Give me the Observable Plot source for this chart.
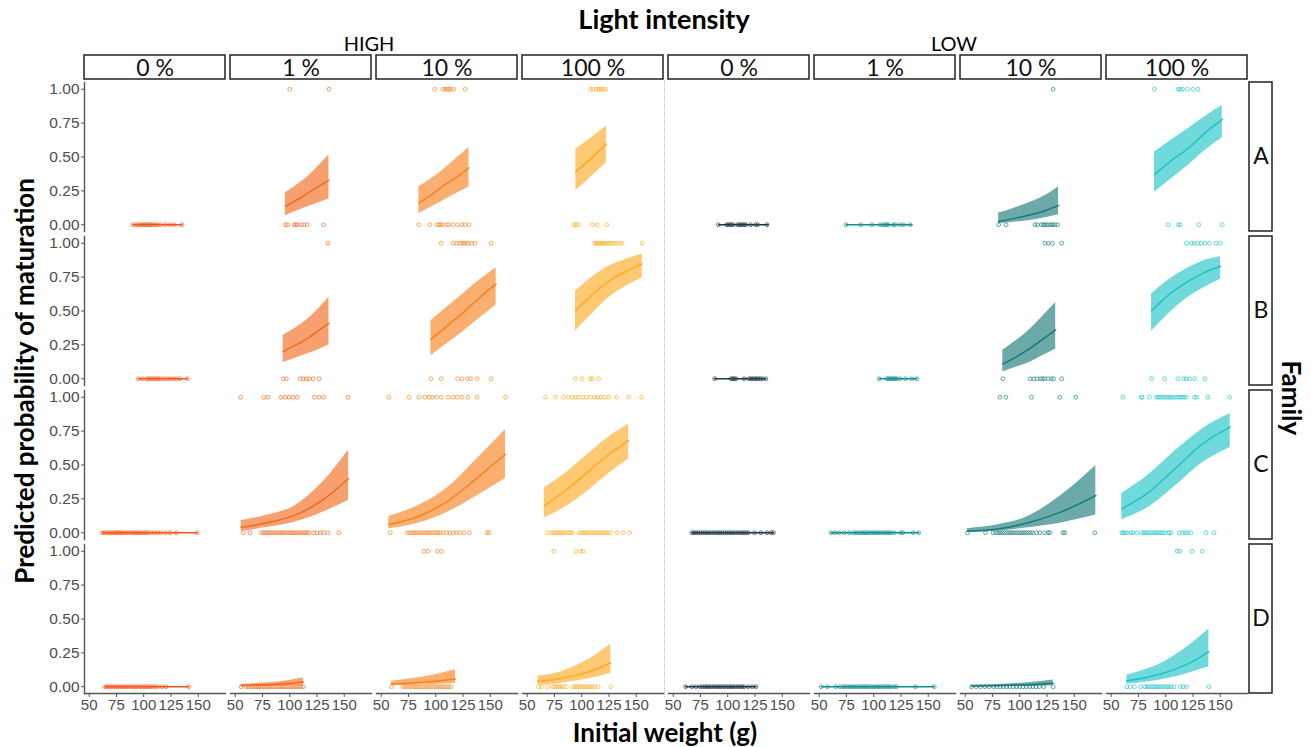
<!DOCTYPE html>
<html><head><meta charset="utf-8">
<script src="https://cdn.jsdelivr.net/npm/d3@7"></script>
<script src="https://cdn.jsdelivr.net/npm/@observablehq/plot@0.6"></script>
<style>
body{margin:0;background:#fff;}
#root{position:relative;width:1311px;height:747px;overflow:hidden;background:#fff;font-family:Lato,"Open Sans",sans-serif;}
.lbl{position:absolute;white-space:nowrap;text-align:center;color:#000;}
.abs{position:absolute;}
</style></head>
<body><div id="root"></div>
<script>
// ---------- data ----------
const families = ["A","B","C","D"];
const lightLevels = ["HIGH","LOW"];
const doses = ["0 %","1 %","10 %","100 %"];
const panelColors = ["#F4561A","#F26A1E","#F7821F","#FFA922","#1D3A44","#12908D","#177A79","#1FC3C8"];
const xTicks = [50,75,100,125,150];
const yTicks = [0,0.25,0.5,0.75,1];

// [light, dose, matured (0/1), initial weights (g)]
const pointsA = [
 ["HIGH","0 %",0,[90,93,95,97,98,100,101,103,104,106,107,109,111,113,116,120,124,128,135]],
 ["HIGH","1 %",0,[96,98,104,105.5,107,110.5,113,116,131]],
 ["HIGH","1 %",1,[100,136]],
 ["HIGH","10 %",0,[84.5,94.5,101,103,104.5,106.5,110,112,116,120,124,127,130.5]],
 ["HIGH","10 %",1,[99,106.5,108.5,110.5,112,114,116.5,127]],
 ["HIGH","100 %",0,[93,95,97,110,114,123]],
 ["HIGH","100 %",1,[108,110,113,115,116,118,120,122]],
 ["LOW","0 %",0,[91.5,99,100.5,102,103.5,105,109,110.5,112,113.5,115,116.5,121,125.5,127.5,136]],
 ["LOW","1 %",0,[74.7,88.2,98.3,105.9,108.4,110.5,112,113.5,118.1,119.7,124.2,127.3,133.5]],
 ["LOW","10 %",0,[80.7,87.5,114,116.3,119.8,121.7,122.8,124.7,126.7,128.6,130.5,132.5,134.8]],
 ["LOW","10 %",1,[130.7]],
 ["LOW","100 %",0,[102.3,111.5,113.4,130.3,151.9]],
 ["LOW","100 %",1,[89.7,111.5,113.4,115.4,120,125,129.6]]
];
const pointsB = [
 ["HIGH","0 %",0,[95,99,103,105,107,109,111,113,115,118,121,124,127,130,133,140]],
 ["HIGH","1 %",0,[94,97,109.5,112.5,115,118,121.5,127]],
 ["HIGH","1 %",1,[135]],
 ["HIGH","10 %",0,[95.7,105,120,124,129,132,138,151]],
 ["HIGH","10 %",1,[105,116,119,122,124,126,128,130,133,136,151]],
 ["HIGH","100 %",0,[94,100.4,108,109.6,115.7]],
 ["HIGH","100 %",1,[111.8,113,114.5,116,117.5,119,120.5,122,124,126,128,130,132,135,137,155.5]],
 ["LOW","0 %",0,[88,103,104.5,106,107.5,115,119.5,121.5,123,125,126.5,128,130,132,135]],
 ["LOW","1 %",0,[105,112,113.5,115,116.5,118,119.5,121,124,129,135,139.6]],
 ["LOW","10 %",0,[84.5,109.5,113,116,119,121,123,126,129,131,138.5]],
 ["LOW","10 %",1,[123,126.5,130,138.5]],
 ["LOW","100 %",0,[87,99,111,116.5,119,122,126.5,136]],
 ["LOW","100 %",1,[119,123.5,126,129,132.5,136,140,146,150]]
];
const pointsC = [
 ["HIGH","0 %",0,[62,64,66,68,70,72,74,75,77,78,80,82,84,86,88,90,92,94,96,98,100,102,104,107,110,113,116,120,124,130,149]],
 ["HIGH","1 %",0,[57.3,63.6,74,76,78,80,82,84,86,88,90,92,94,96,98,100,102,104,106,108,110,112,114,116,118,122,125,128,131,135,145]],
 ["HIGH","1 %",1,[55,76,80,92,96,99.5,103,107,122.5,127,131,153.5]],
 ["HIGH","10 %",0,[58.3,74,76,78,80,82,84,86,88,90,92,94,96,98,100,102,104,107,110,113,116,119,122,126,131,147,149]],
 ["HIGH","10 %",1,[57,75.6,84.8,90.3,94,96.7,100.4,105,111.4,116,119.6,124.2,129.7,138,164]],
 ["HIGH","100 %",0,[68.6,72.3,74,76,78,80,82,84,86,88,90,91.6,97.7,100,102,104,106,108,110,112,114,116,118,120,122,124,126.4,132.5,138.3,144]],
 ["HIGH","100 %",1,[66.8,76,83.3,87.9,91.6,94.3,97.1,100.7,104.4,108.1,111.8,114.5,117.3,120.9,124.6,131.9,143,154.9]],
 ["LOW","0 %",0,[67,69,71,73,75,77,79,81,83,85,87,89,91,93,95,97,99,101,103,105,107,109,111,113,115,117,119,124.6,130.4,136.2,140.1,142]],
 ["LOW","1 %",0,[60.7,64.5,68.4,72.9,77.5,81.4,83.7,86,88,90,92,94,96,98,100,102,104,106,108,110,112,114,116,119,124.8,126.7,136.2,141.3]],
 ["LOW","10 %",0,[52.1,68.6,75.6,78,80,82,84,86,88,90,92,94,96,98,100,102,104,106,108,110,112,115.4,118.5,123,126,127.6,139.8,141.3,168.9]],
 ["LOW","10 %",1,[81.8,87.3,110.8,136.7,151.4]],
 ["LOW","100 %",0,[59.7,61,63,65,68,70,74,78,80,82,84,86,88,90,92,94,96,98,100,103,105,112.3,115.4,118,120,123,136.8,144.4]],
 ["LOW","100 %",1,[60.6,77.5,78.4,85.1,91.2,93,95,97,99,101,103,105,107,109,111,113,115,117,118.8,126.4,128.5,138.6,158.5]]
];
const pointsD = [
 ["HIGH","0 %",0,[64.3,66,68,70,72,74,76,78,80,82,84,86,88,90,92,94,96,98,100,102,104,106,108,110,112.7,116.7,120.5,141.2]],
 ["HIGH","1 %",0,[55.4,60,62,64.5,66,68,70,71.5,73,75,77,79,81,83,85,87,89,91,93,95,97,99,101,103,105,107,109,110.5,112.5]],
 ["HIGH","10 %",0,[59.5,70,72,74,76,78,80,82,84,86,88,90,92,94,96,98,100,102,104,106,108,110,112,114]],
 ["HIGH","10 %",1,[89.2,93,101.5,105.4]],
 ["HIGH","100 %",0,[60.3,63,68.7,73.4,75,77,79,81,83,86,91.9,94,96,98,100,102,104,106,108,110,112,115,126.7]],
 ["HIGH","100 %",1,[74.4,94.8,99.4,101.3]],
 ["LOW","0 %",0,[61.4,67.1,71,74.7,77,79,81,83,85,87,89,91,93,95,97,99,101,103,105,107,109,111,113,115,118.9,122.7,125.9]],
 ["LOW","1 %",0,[51.8,57.6,65.2,69.1,72,74,76,78,80,82,84,86,88,90,92,94,96,98,100,102,104,106,108,110,112,114,116,119,120.9,138.2,155.5]],
 ["LOW","10 %",0,[55.8,60,64,68,72,76,79,82,85,88,91,94,97,100,103,106,109,112,115,118,122,130.7]],
 ["LOW","100 %",0,[64.4,67.4,71.4,77,80.9,83,85,87,89,91,93,95,97,99,101,103,105,107.6,113.4,116,119.1,139.6]],
 ["LOW","100 %",1,[110.5,112.8,124.3,133.5]]
];

// [light, dose, [[weight, predicted, lower, upper], ...]]
const fitsA = [
 ["HIGH","0 %",[[90,0,0,0],[135,0,0,0]]],
 ["HIGH","1 %",[[96,0.136,0.067,0.236],[106,0.18,0.10,0.29],[116,0.23,0.13,0.35],[126,0.28,0.16,0.43],[136,0.33,0.19,0.516]]],
 ["HIGH","10 %",[[84.5,0.161,0.082,0.28],[96,0.22,0.13,0.34],[107.5,0.29,0.18,0.41],[119,0.35,0.23,0.49],[130.5,0.42,0.278,0.57]]],
 ["HIGH","100 %",[[94.6,0.392,0.253,0.558],[101.7,0.44,0.30,0.60],[108.7,0.49,0.355,0.64],[115.8,0.545,0.405,0.685],[122.8,0.596,0.459,0.727]]],
 ["LOW","0 %",[[91.5,0,0,0],[137,0,0,0]]],
 ["LOW","1 %",[[74.7,0,0,0],[135,0,0,0]]],
 ["LOW","10 %",[[80.7,0.025,0.007,0.086],[94.4,0.045,0.018,0.12],[108,0.07,0.03,0.16],[122,0.10,0.05,0.21],[135.6,0.143,0.074,0.279]]],
 ["LOW","100 %",[[89.7,0.37,0.24,0.536],[105.3,0.475,0.34,0.625],[120.8,0.565,0.44,0.71],[136.4,0.68,0.55,0.80],[151.9,0.778,0.642,0.88]]]
];
const fitsB = [
 ["HIGH","0 %",[[95,0,0,0],[140,0,0,0]]],
 ["HIGH","1 %",[[94,0.2,0.12,0.32],[104.5,0.245,0.15,0.37],[115,0.29,0.18,0.43],[125.5,0.35,0.21,0.51],[136,0.41,0.25,0.6]]],
 ["HIGH","10 %",[[95.7,0.29,0.17,0.43],[110.6,0.39,0.26,0.53],[125.5,0.49,0.35,0.63],[140.5,0.60,0.45,0.73],[155.4,0.70,0.545,0.82]]],
 ["HIGH","100 %",[[94.3,0.5,0.353,0.647],[109.6,0.62,0.48,0.75],[124.9,0.72,0.6,0.83],[140.2,0.79,0.68,0.88],[155.5,0.848,0.745,0.921]]],
 ["LOW","0 %",[[88,0,0,0],[135,0,0,0]]],
 ["LOW","1 %",[[105,0,0,0],[139.6,0,0,0]]],
 ["LOW","10 %",[[84.5,0.11,0.05,0.21],[96.6,0.16,0.085,0.28],[108.8,0.22,0.12,0.36],[120.9,0.29,0.17,0.46],[133,0.36,0.22,0.56]]],
 ["LOW","100 %",[[87,0.5,0.35,0.625],[102.8,0.62,0.48,0.73],[118.7,0.71,0.59,0.81],[134.5,0.78,0.67,0.87],[150.3,0.83,0.735,0.9]]]
];
const fitsC = [
 ["HIGH","0 %",[[62,0,0,0],[149,0,0,0]]],
 ["HIGH","1 %",[[55.5,0.04,0.01,0.09],[80,0.075,0.04,0.13],[105,0.13,0.08,0.2],[130,0.24,0.15,0.37],[154,0.40,0.24,0.61]]],
 ["HIGH","10 %",[[57,0.06,0.03,0.12],[83.75,0.12,0.07,0.2],[110.5,0.23,0.15,0.33],[137.25,0.40,0.27,0.54],[164,0.58,0.40,0.76]]],
 ["HIGH","100 %",[[65.7,0.2,0.11,0.33],[85,0.31,0.19,0.44],[104.4,0.44,0.3,0.57],[123.7,0.57,0.43,0.70],[143,0.68,0.545,0.80]]],
 ["LOW","0 %",[[67,0,0,0],[142,0,0,0]]],
 ["LOW","1 %",[[60.7,0,0,0],[141.3,0,0,0]]],
 ["LOW","10 %",[[52.1,0.01,0.002,0.03],[81,0.03,0.012,0.06],[106,0.07,0.035,0.115],[137,0.15,0.07,0.27],[169.8,0.274,0.13,0.495]]],
 ["LOW","100 %",[[59.7,0.176,0.096,0.29],[84.6,0.30,0.19,0.43],[109.5,0.48,0.35,0.61],[134.3,0.66,0.52,0.77],[159.2,0.78,0.63,0.88]]]
];
const fitsD = [
 ["HIGH","0 %",[[64.3,0,0,0],[141.2,0,0,0]]],
 ["HIGH","1 %",[[55.4,0.008,0.002,0.018],[69.7,0.011,0.003,0.024],[84,0.016,0.005,0.032],[98.3,0.024,0.008,0.045],[112.5,0.035,0.012,0.064]]],
 ["HIGH","10 %",[[59.5,0.02,0.007,0.04],[74,0.026,0.01,0.055],[88.8,0.034,0.014,0.072],[103.5,0.044,0.019,0.096],[118.1,0.057,0.025,0.126]]],
 ["HIGH","100 %",[[59.9,0.04,0.01,0.08],[76.6,0.055,0.02,0.1],[93.3,0.08,0.04,0.15],[110,0.12,0.065,0.22],[126.7,0.175,0.10,0.315]]],
 ["LOW","0 %",[[61.4,0,0,0],[125.9,0,0,0]]],
 ["LOW","1 %",[[51.8,0,0,0],[155.5,0,0,0]]],
 ["LOW","10 %",[[55.8,0.005,0,0.01],[74.5,0.007,0.001,0.014],[93.2,0.01,0.002,0.022],[112,0.016,0.004,0.033],[130.7,0.025,0.008,0.05]]],
 ["LOW","100 %",[[64.4,0.044,0.02,0.086],[83.2,0.07,0.035,0.13],[102,0.11,0.06,0.2],[120.8,0.17,0.10,0.3],[139.6,0.26,0.148,0.426]]]
];

// ---------- build tables ----------
const keys = lightLevels.flatMap(l => doses.map(d => l + "|" + d));
const pointSets = {A: pointsA, B: pointsB, C: pointsC, D: pointsD};
const fitSets = {A: fitsA, B: fitsB, C: fitsC, D: fitsD};
const pointRows = [];
const fitRows = [];
for (const fam of families) {
  for (const [light, dose, m, ws] of pointSets[fam])
    for (const w of ws) pointRows.push({family: fam, key: light + "|" + dose, w, m});
  for (const [light, dose, rows] of fitSets[fam])
    for (const [x, fit, lo, hi] of rows) fitRows.push({family: fam, key: light + "|" + dose, x, fit, lo, hi});
}

const root = document.getElementById("root");
const PANEL_TOP = 80, PANEL_H = 615, ML = 83, MR = 63, W = 1311;
const padX = 0.036, padY = 0.032;
const stripFont = "Lato, 'Open Sans', sans-serif";
const tickFont = "'Liberation Sans Narrow','Liberation Sans',Arial,sans-serif";

const main = Plot.plot({
  width: W, height: PANEL_H + 52,
  marginLeft: ML, marginRight: MR, marginTop: 0, marginBottom: 52,
  style: {fontFamily: tickFont, fontSize: "15px", color: "#4d4d4d", background: "transparent", overflow: "visible"},
  x: {domain: [45.7, 175], label: null},
  y: {domain: [-0.05, 1.05], label: null},
  fx: {domain: keys, paddingInner: padX, paddingOuter: 0, axis: null, label: null},
  fy: {domain: families, paddingInner: padY, paddingOuter: 0, axis: null, label: null},
  color: {domain: keys, range: panelColors},
  marks: [
    Plot.areaY(fitRows, {x: "x", y1: "lo", y2: "hi", fx: "key", fy: "family", fill: "key", fillOpacity: 0.64, curve: "monotone-x"}),
    Plot.lineY(fitRows, {x: "x", y: "fit", fx: "key", fy: "family", stroke: "key", strokeWidth: 1.5, curve: "monotone-x"}),
    Plot.dot(pointRows, {x: "w", y: "m", fx: "key", fy: "family", stroke: "key", r: 1.9, strokeWidth: 0.8, fill: "none", strokeOpacity: 0.85}),
    Plot.axisX({ticks: xTicks, tickSize: 4, tickPadding: 2, label: null, fontSize: 15, fontFamily: tickFont, stroke: "#555", fill: "#4d4d4d"}),
    Plot.axisY({ticks: yTicks, tickFormat: d3.format(".2f"), tickSize: 3, tickPadding: 2, label: null, fontSize: 15.5, fontFamily: tickFont, stroke: "#555", fill: "#4d4d4d"}),
    Plot.frame({anchor: "bottom", facetAnchor: "bottom", stroke: "#555", strokeWidth: 1.4}),
    Plot.frame({anchor: "left", facetAnchor: "left", stroke: "#555", strokeWidth: 1.4})
  ]
});
main.style.position = "absolute";
main.style.left = "0px";
main.style.top = PANEL_TOP + "px";
root.appendChild(main);

// top strips
const topStrip = Plot.plot({
  width: W, height: 26, marginLeft: ML, marginRight: MR, marginTop: 1, marginBottom: 1,
  style: {background: "transparent", overflow: "visible"},
  x: {type: "band", domain: keys, paddingInner: padX, paddingOuter: 0, axis: null},
  marks: [
    Plot.cell(keys, {x: d => d, fill: "white", stroke: "#222", strokeWidth: 1.5}),
    Plot.text(keys, {x: d => d, text: d => d.split("|")[1], fontSize: 23, fill: "#111", fontFamily: stripFont, dy: 1.5})
  ]
});
topStrip.style.position = "absolute";
topStrip.style.left = "0px";
topStrip.style.top = "54px";
root.appendChild(topStrip);

// right strips
const rightStrip = Plot.plot({
  width: 26, height: PANEL_H + 1, marginLeft: 1, marginRight: 2, marginTop: 1, marginBottom: 0,
  style: {background: "transparent", overflow: "visible"},
  y: {type: "band", domain: families, paddingInner: padY, paddingOuter: 0, axis: null},
  marks: [
    Plot.cell(families, {y: d => d, fill: "white", stroke: "#222", strokeWidth: 1.5}),
    Plot.text(families, {y: d => d, text: d => d, fontSize: 23, fill: "#111", fontFamily: stripFont})
  ]
});
rightStrip.style.position = "absolute";
rightStrip.style.left = "1248px";
rightStrip.style.top = (PANEL_TOP - 1) + "px";
root.appendChild(rightStrip);

// separator between HIGH and LOW
const sep = document.createElement("div");
sep.className = "abs";
Object.assign(sep.style, {left: "664px", top: "80px", width: "0px", height: "617px", borderLeft: "1px dotted #b5b5b5"});
root.appendChild(sep);

function label(text, cx, cy, size, weight, rot) {
  const d = document.createElement("div");
  d.className = "lbl";
  d.textContent = text;
  Object.assign(d.style, {left: (cx - 300) + "px", top: (cy - size * 0.65) + "px", width: "600px", fontSize: size + "px", fontWeight: weight, lineHeight: (size * 1.3) + "px"});
  if (rot) d.style.transform = "rotate(" + rot + "deg)";
  root.appendChild(d);
}
label("Light intensity", 664, 19, 27, 700);
label("HIGH", 369, 43, 20, 400);
label("LOW", 954, 43, 20, 400);
label("Predicted probability of maturation", 25, 381, 26, 700, -90);
label("Initial weight (g)", 665, 733, 26, 700);
label("Family", 1291, 398, 26, 700, 90);
</script>
</body></html>
